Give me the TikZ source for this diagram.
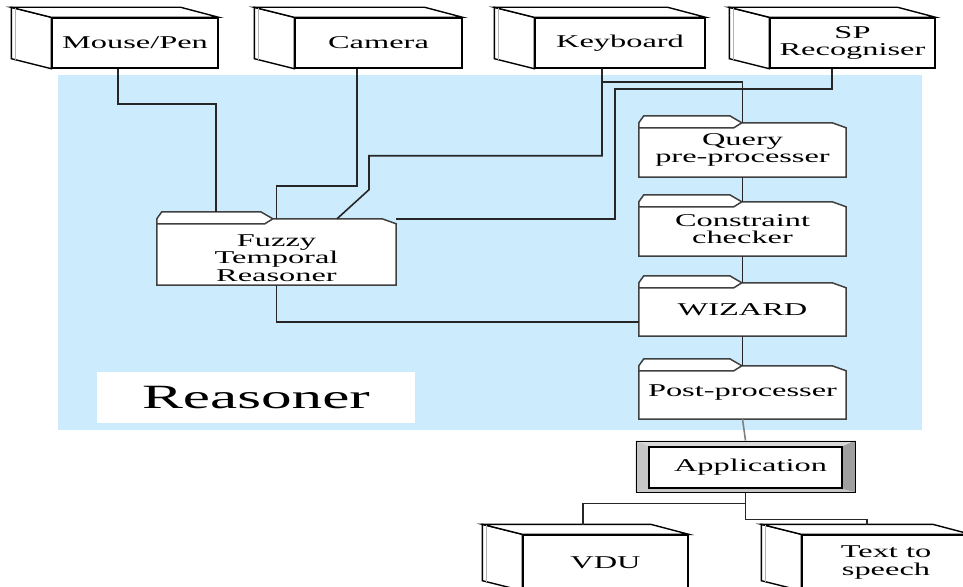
\documentclass[tikz,border=0pt]{standalone}
\usepackage{fontspec}
\setmainfont{Liberation Serif}[FakeStretch=1.8]
\usetikzlibrary{calc,backgrounds}
\definecolor{reasonblue}{RGB}{204,235,253}
\newcommand\cubefaces[1]{%
  \filldraw[cubeline, fill=white] (#1.north west) -- ++(-40,-10) -- ($(#1.south west)+(-40,-10)$) -- (#1.south west) -- cycle;
  \filldraw[cubeline, fill=white] (#1.north west) -- ++(-40,-10) -- ($(#1.north east)+(-38,-10)$) -- (#1.north east) -- cycle;
  \draw[gray!60, line width=1pt] ($(#1.north west)+(-36,-9)$) -- ($(#1.south west)+(-36,-9)$);
}
\newcommand\folderoutline[2]{%
  \filldraw[folderline, fill=white] (#1.north west) -- ($(#1.north west)+(5,-7)$) -- ($(#1.north west)+(#2-12,-7)$) -- ($(#1.north west)+(#2,0)$) -- ($(#1.north east)+(-14,0)$) -- ($(#1.north east)+(0,5)$) -- (#1.south east) -- (#1.south west) -- cycle;
  \draw[folderline] ($(#1.north west)+(0,5)$) -- ($(#1.north west)+(#2-8,5)$) -- ($(#1.north west)+(#2,0)$);
}
\begin{document}
\begin{tikzpicture}[x=1pt,y=-1pt,
  txt/.style={font=\fontsize{18}{17.5}\selectfont, align=center},
  cube/.style={txt, draw=black, line width=1.4pt, fill=white, minimum height=50pt, inner sep=0pt},
  cubeline/.style={draw=black, line width=1.4pt},
  folder/.style={txt, inner sep=0pt},
  folderline/.style={draw=black!75, line width=1.5pt},
  conn/.style={line width=1.6pt, black!85}]
\clip (0,0) rectangle (963,586);
\useasboundingbox (0,0) rectangle (963,586);

% region
\begin{scope}[on background layer]
\node[fill=reasonblue, minimum width=864pt, minimum height=355pt, inner sep=0pt] (region) at (490,252.5) {};
\end{scope}
\node[fill=white, minimum width=318pt, minimum height=51pt, inner sep=0pt, font=\fontsize{34}{34}\selectfont] (rlabel) at (256,397.5) {Reasoner};

% input devices
\node[cube, minimum width=166pt] (mouse) at (135,43) {Mouse/Pen};
\node[cube, minimum width=167pt] (camera) at (378.5,43) {Camera};
\node[cube, minimum width=170pt] (keyboard) at (620,43) {Keyboard};
\node[cube, minimum width=165pt] (sp) at (852.5,43) {SP\\Recogniser};
\cubefaces{mouse}
\cubefaces{camera}
\cubefaces{keyboard}
\cubefaces{sp}

% output devices
\node[cube, minimum width=165pt, minimum height=55pt] (vdu) at (605.5,562.5) {VDU};
\node[cube, minimum width=168pt, minimum height=55pt] (tts) at (886,562.5) {Text to\\speech};
\cubefaces{vdu}
\cubefaces{tts}

% folders
\node[folder, minimum width=239pt, minimum height=66pt] (fuzzy) at (276.5,252) {\rule{0pt}{24pt}Fuzzy\\Temporal\\Reasoner};
\node[folder, minimum width=207pt, minimum height=54pt] (query) at (742.5,150) {Query\\pre-processer};
\node[folder, minimum width=207pt, minimum height=54pt] (constraint) at (742.5,229) {Constraint\\checker};
\node[folder, minimum width=207pt, minimum height=53pt] (wizard) at (742.5,309.5) {WIZARD};
\node[folder, minimum width=207pt, minimum height=53pt] (post) at (742.5,392.5) {Post-processer};

% application
\node[draw=black, line width=1pt, minimum width=219pt, minimum height=51pt, inner sep=0pt] (appframe) at (745.5,466.5) {};
\node[txt, draw=black, line width=2pt, fill=white, minimum width=193pt, minimum height=41pt, inner sep=0pt] (app) at (745.5,467.5) {\hspace{10pt}Application};

\begin{scope}[on background layer]
\folderoutline{fuzzy}{116}
\folderoutline{query}{103}
\folderoutline{constraint}{103}
\folderoutline{wizard}{103}
\folderoutline{post}{103}
\fill[gray!30] (appframe.north west) -- (appframe.north east) -- (app.north east) -- (app.north west) -- cycle;
\fill[gray!45] (appframe.south west) -- (appframe.south east) -- (app.south east) -- (app.south west) -- cycle;
\fill[gray!45] (appframe.north west) -- (app.north west) -- (app.south west) -- (appframe.south west) -- cycle;
\fill[gray!75] (appframe.north east) -- (app.north east) -- (app.south east) -- (appframe.south east) -- cycle;
\end{scope}

% connectors
\draw[conn] ([xshift=-17pt]mouse.south) -- ++(0,35) -| ([xshift=-60.5pt,yshift=7pt]fuzzy.north);
\draw[conn] ([xshift=-21.5pt]camera.south) -- ++(0,117) -| (fuzzy.north);
\draw[conn] ([xshift=-18pt]keyboard.south) -- ++(0,87) -- ++(-233,0) -- ++(0,34) -- ([xshift=60.5pt]fuzzy.north);
\draw[conn] ([xshift=-18pt]keyboard.south) -- ++(0,13) -| (query.north);
\draw[conn] ([xshift=-20.5pt]sp.south) -- ++(0,20) -- ++(-217,0) |- (fuzzy.north east);
\draw[conn] (query.south) -- (constraint.north);
\draw[conn] (constraint.south) -- (wizard.north);
\draw[conn] (wizard.south) -- (post.north);
\draw[conn] (fuzzy.south) |- ([yshift=-12.5pt]wizard.west);
\draw[line width=1.6pt, gray] (post.south) -- (appframe.north);
\draw[conn] (appframe.south) -- ++(0,11) -| ([xshift=-22.5pt,yshift=9pt]vdu.north);
\draw[conn] (appframe.south) -- ++(0,27) -| ([xshift=-19pt,yshift=9pt]tts.north);
\end{tikzpicture}
\end{document}
